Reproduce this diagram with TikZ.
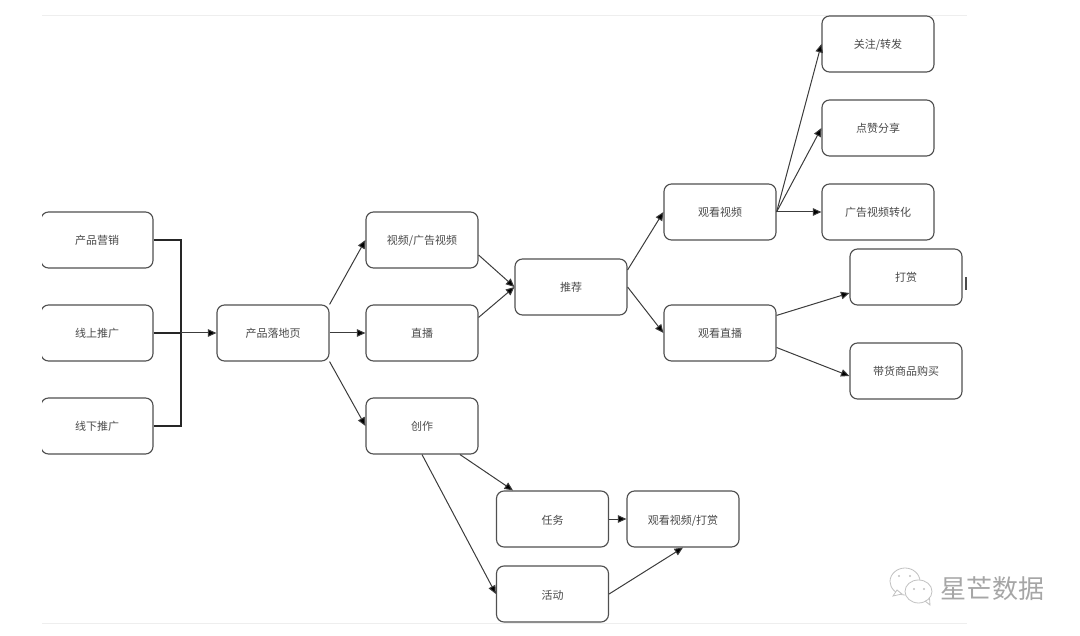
\documentclass[tikz,border=0pt]{standalone}
\usepackage{fontspec}
\setmainfont{Noto Sans CJK SC}
\usetikzlibrary{arrows.meta}
\definecolor{ln}{HTML}{505050}
\definecolor{cn}{HTML}{3C3C3C}
\definecolor{tx}{HTML}{4A4A4A}
\definecolor{rule}{HTML}{EEEEEE}
\definecolor{wm}{HTML}{A6A6A6}
\tikzset{
  x=1pt,y=-1pt,
  boxn/.style={draw=ln,line width=1.15pt,rounded corners=7.5pt,minimum width=112pt,minimum height=56pt,inner sep=0pt,text=tx,text height=10pt,text depth=0pt,font=\fontsize{11pt}{12pt}\selectfont,fill=white},
  conn/.style={draw=cn,line width=1pt,-{Triangle[length=8.5pt,width=7.5pt,fill=black]}},
  thick link/.style={draw=black!85,line width=2.2pt},
  rulel/.style={draw=rule,line width=1pt},
  wmline/.style={draw=wm!70,line width=0.8pt,fill=white}
}
\begin{document}
\begin{tikzpicture}
\useasboundingbox (0,0) rectangle (1080,636);
\coordinate (rt1) at (42,16); \coordinate (rt2) at (967,16);
\coordinate (rb1) at (42,623); \coordinate (rb2) at (967,623);
\draw[rulel] (rt1) -- (rt2);
\draw[rulel] (rb1) -- (rb2);
\begin{scope}
\clip (42,0) rectangle (1080,636);
\node[boxn] (a1) at (97,240) {产品营销};
\node[boxn] (a2) at (97,333) {线上推广};
\node[boxn] (a3) at (97,426) {线下推广};
\end{scope}
\node[boxn] (land) at (273,333) {产品落地页};
\node[boxn] (vid) at (422,240) {视频/广告视频};
\node[boxn] (live) at (422,333) {直播};
\node[boxn] (make) at (422,426) {创作};
\node[boxn] (rec) at (571,287) {推荐};
\node[boxn] (wv) at (720,212) {观看视频};
\node[boxn] (wl) at (720,333) {观看直播};
\node[boxn] (fo) at (878,44) {关注/转发};
\node[boxn] (li) at (878,128) {点赞分享};
\node[boxn] (ad) at (878,212) {广告视频转化};
\node[boxn] (tip) at (906,277) {打赏};
\node[boxn] (buy) at (906,371) {带货商品购买};
\node[boxn] (task) at (552.5,519) {任务};
\node[boxn] (wt) at (683,519) {观看视频/打赏};
\node[boxn] (act) at (552.5,594) {活动};
\coordinate (j) at (181,333);
\draw[thick link] (a1.east) -| (j);
\draw[thick link] (a3.east) -| (j);
\draw[thick link] (a2.east) -- (j);
\draw[conn] (j) -- (land.west);
\draw[conn] (land.north east) -- (vid.west);
\draw[conn] (land.east) -- (live.west);
\draw[conn] (land.south east) -- (make.west);
\draw[conn] ([yshift=-15pt]vid.east) -- (rec.west);
\draw[conn] ([yshift=-13pt]live.north east) -- (rec.west);
\draw[conn] ([yshift=17pt]rec.east) -- (wv.west);
\draw[conn] (rec.east) -- (wl.west);
\draw[conn] (wv.east) -- (fo.west);
\draw[conn] (wv.east) -- (li.west);
\draw[conn] (wv.east) -- (ad.west);
\draw[conn] ([yshift=-11pt]wl.north east) -- ([yshift=-16pt]tip.west);
\draw[conn] ([yshift=-14.5pt]wl.east) -- ([yshift=-5pt]buy.west);
\draw[conn] (make.south) -- (act.west);
\draw[conn] ([xshift=38pt]make.south) -- ([xshift=-39.5pt]task.north);
\draw[conn] (task.east) -- (wt.west);
\draw[conn] (act.east) -- (wt.south);
\fill[black!70] (965.2,277) rectangle (966.6,290);
% watermark
\draw[wmline] (905,595) .. controls (896,595) and (890,588) .. (890,581.5) .. controls (890,574) and (897,568) .. (905,568) .. controls (913,568) and (920,574) .. (920,581.5) .. controls (920,588) and (914,595) .. (905,595) -- cycle;
\draw[wmline] (893,596) -- (897,590) -- (902,594) -- cycle;
\draw[wmline] (918.5,603) .. controls (911,603) and (905,597.5) .. (905,591.5) .. controls (905,585) and (911,580) .. (918.5,580) .. controls (926,580) and (932,585) .. (932,591.5) .. controls (932,597.5) and (926,603) .. (918.5,603) -- cycle;
\draw[wm!70,line width=0.8pt] (925,601) -- (930,605) -- (929.5,598);
\fill[wm!70] (899,576) circle (1.2) (910,576) circle (1.2) (914,589) circle (1.2) (924,589) circle (1.2);
\node[text=wm,font=\fontsize{26pt}{28pt}\selectfont,inner sep=0pt] (wmt) at (992.5,589) {星芒数据};
\end{tikzpicture}
\end{document}
